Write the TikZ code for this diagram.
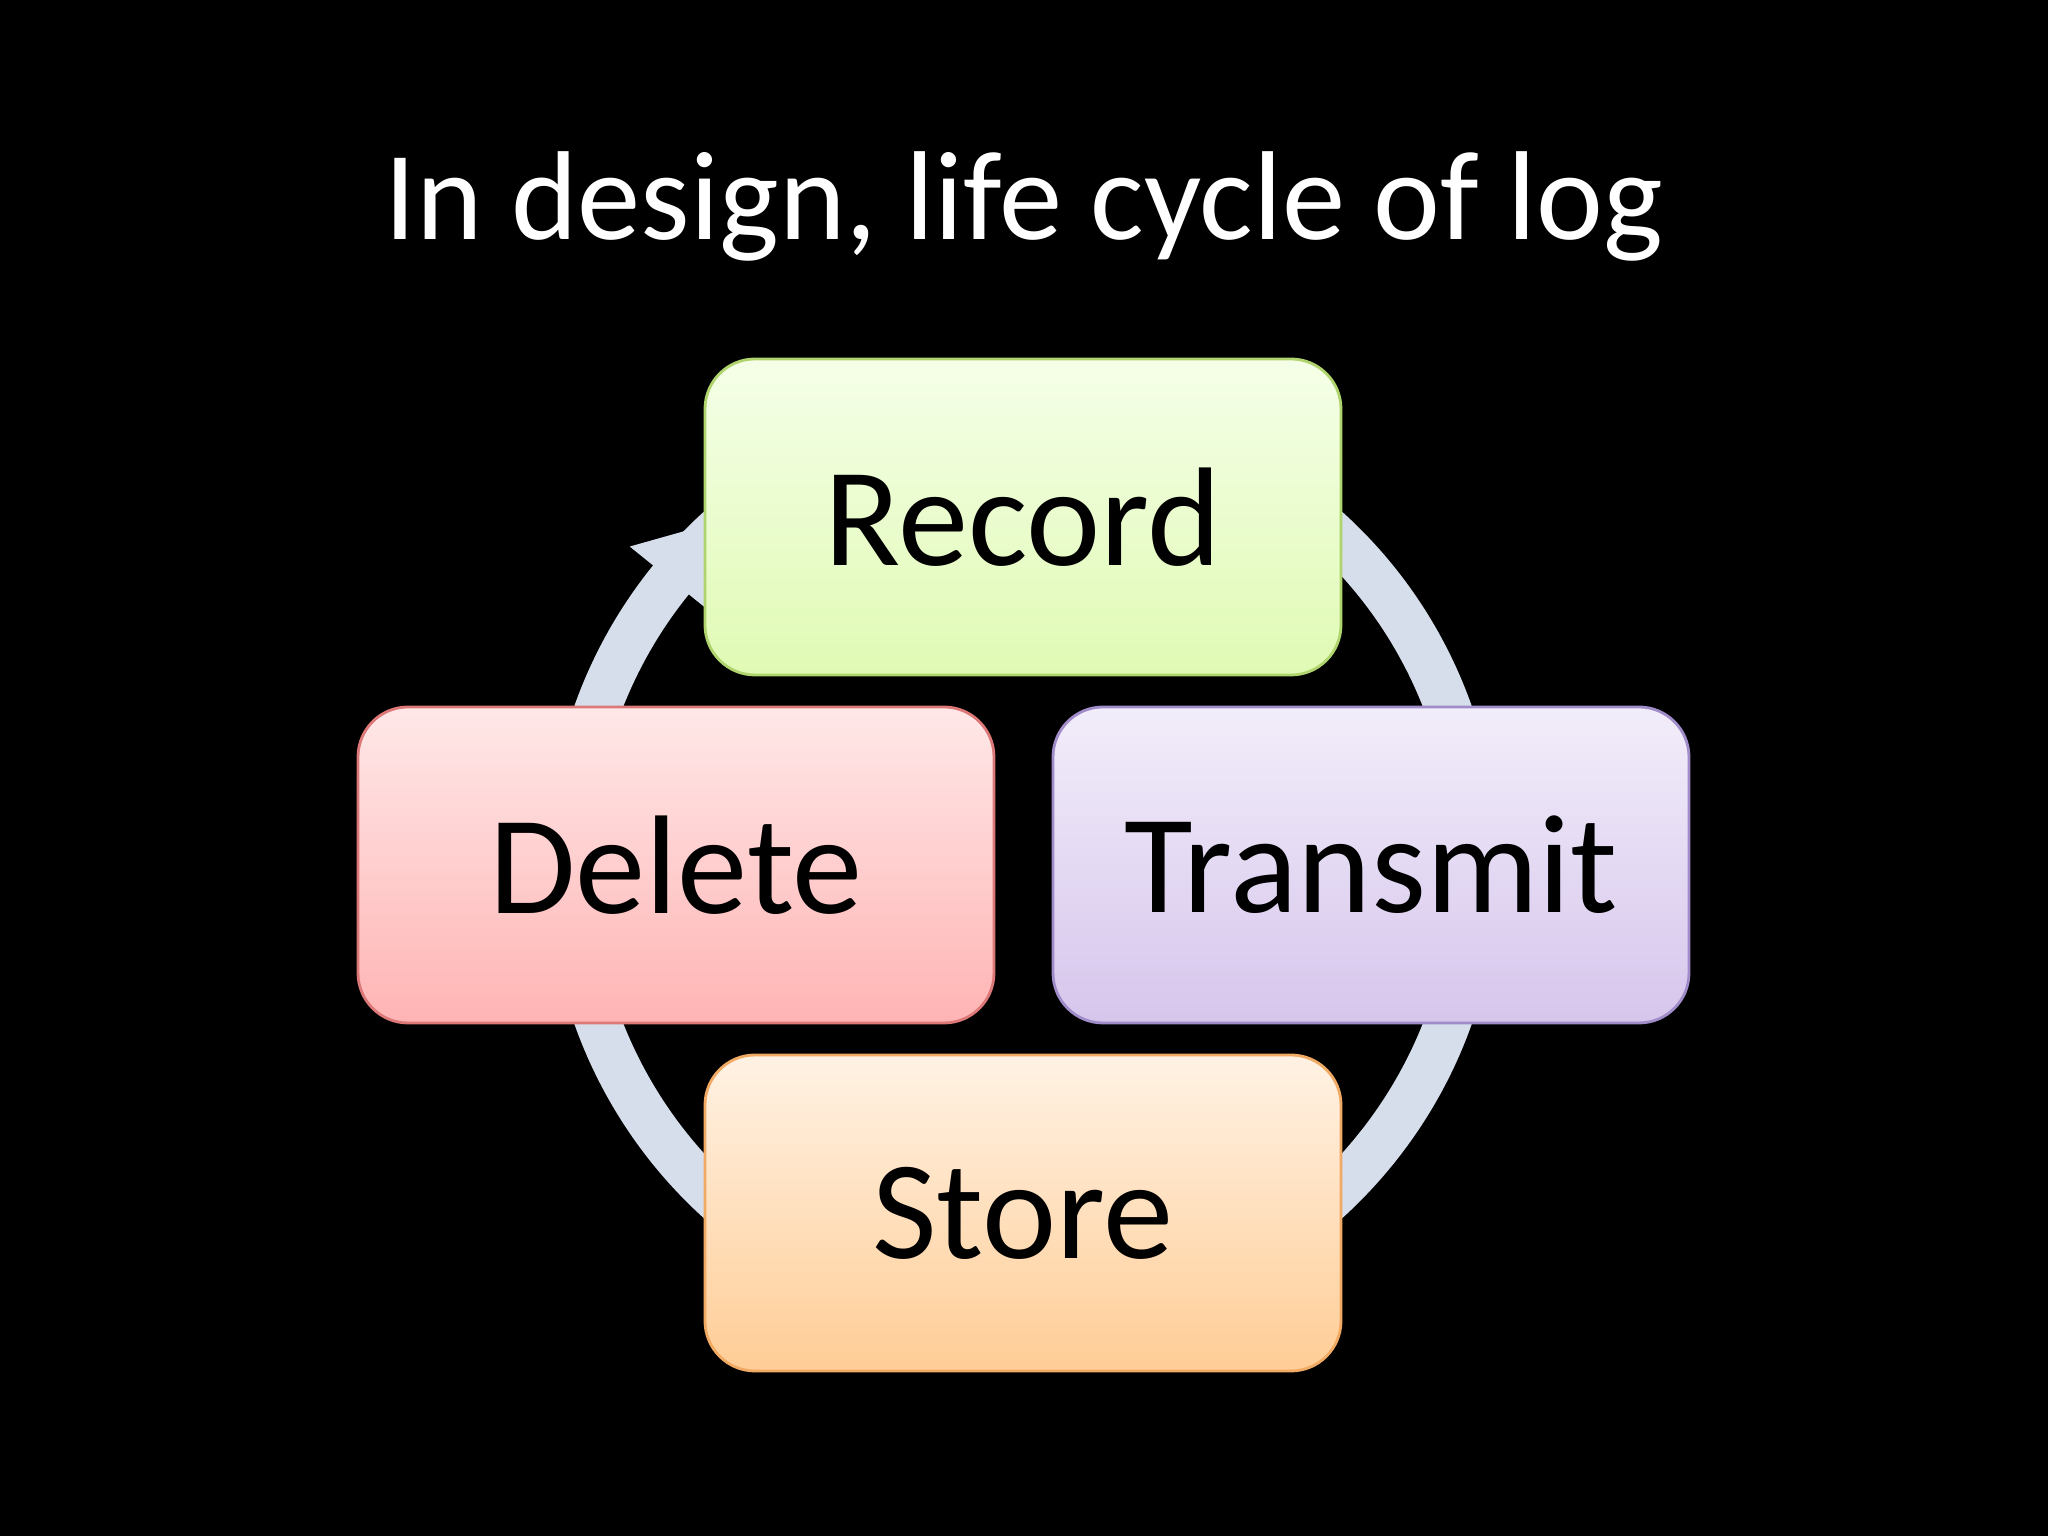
\documentclass[tikz,border=0pt]{standalone}
\usepackage{fontspec}
\setmainfont{Carlito}
\usetikzlibrary{calc}
\definecolor{ring}{RGB}{214,222,235}
\tikzset{
  box/.style={draw, line width=0.8pt, rounded corners=0.5cm, minimum width=6.36cm, minimum height=3.16cm, font=\fontsize{40}{48}\selectfont, text=black},
}
\begin{document}
\begin{tikzpicture}
\fill[black] (0,0) rectangle (20.48,15.36);
\useasboundingbox (0,0) rectangle (20.48,15.36);
\node (title) at (10.24,13.3) [text=white, font=\fontsize{36}{43}\selectfont] {In design, life cycle of log};
\coordinate (c) at (10.23,6.71);
\draw[ring, line width=0.46cm] (c) ++(141:4.53) arc (141:-220:4.53);
\fill[ring] ($(c)+(141:4.0)$) -- ($(c)+(141:5.06)$) -- ($(c)+(141:4.53)+(51:0.75)$) -- cycle;
\node[box, top color={rgb,255:red,245;green,255;blue,232}, bottom color={rgb,255:red,224;green,250;blue,180}, draw={rgb,255:red,175;green,212;blue,110}] (record) at (10.23,10.19) {Record};
\node[box, top color={rgb,255:red,255;green,232;blue,232}, bottom color={rgb,255:red,255;green,180;blue,180}, draw={rgb,255:red,220;green,120;blue,120}] (delete) at (6.76,6.71) {Delete};
\node[box, top color={rgb,255:red,242;green,237;blue,250}, bottom color={rgb,255:red,214;green,198;blue,236}, draw={rgb,255:red,160;green,140;blue,200}] (transmit) at (13.71,6.71) {Transmit};
\node[box, top color={rgb,255:red,255;green,242;blue,228}, bottom color={rgb,255:red,255;green,205;blue,150}, draw={rgb,255:red,240;green,170;blue,100}] (store) at (10.23,3.23) {Store};
\end{tikzpicture}
\end{document}
